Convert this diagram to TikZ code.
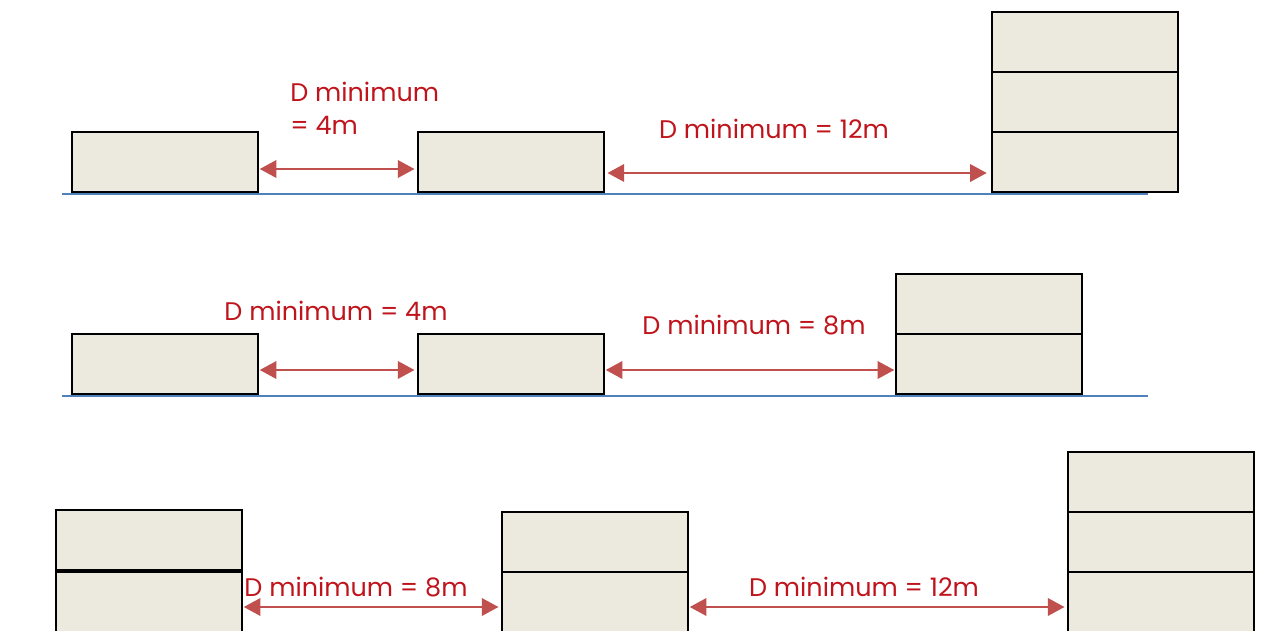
\documentclass[tikz,border=0pt]{standalone}
\usepackage{fontspec}
\setmainfont{Poppins}
\usetikzlibrary{arrows.meta}
\definecolor{boxfill}{HTML}{ECE9DF}
\definecolor{arrred}{HTML}{C0504D}
\definecolor{txtred}{HTML}{C0141C}
\definecolor{ground}{HTML}{4F81BD}
\tikzset{
  blk/.style={draw=black, line width=1.1pt, fill=boxfill, minimum width=37.2mm, minimum height=12mm, inner sep=0pt, outer sep=0pt},
  gap/.style={draw=arrred, line width=1.1pt, {Triangle[length=9.5pt,width=10pt]}-{Triangle[length=9.5pt,width=10pt]}},
  lbl/.style={text=txtred, font=\fontsize{14.5pt}{19pt}\selectfont, inner sep=0pt},
  gline/.style={draw=ground, line width=1.1pt}
}
\begin{document}
\begin{tikzpicture}[x=0.2mm, y=-0.2mm]
\useasboundingbox (0,0) rectangle (1262,630);
% ---------- row 1 ----------
\coordinate (g1l) at (62,194);
\coordinate (g1r) at (1148,194);
\draw[gline] (g1l) -- (g1r);
\node[blk] (r1a) at (165,162) {};
\node[blk] (r1b) at (511,162) {};
\node[blk] (r1c1) at (1085,162) {};
\node[blk] (r1c2) at (1085,102) {};
\node[blk] (r1c3) at (1085,42) {};
\coordinate (y1a) at (0,169);
\coordinate (y1b) at (0,173);
\draw[gap, shorten <=1pt, shorten >=2pt] (r1a.east |- y1a) -- (r1b.west |- y1a);
\draw[gap, shorten <=2pt, shorten >=3pt] (r1b.east |- y1b) -- (r1c1.west |- y1b);
\node[lbl, anchor=west, align=left] (t1a) at (290,108) {D minimum\\= 4m};
\node[lbl] (t1b) at (774,129) {D minimum = 12m};
% ---------- row 2 ----------
\coordinate (g2l) at (62,396);
\coordinate (g2r) at (1148,396);
\draw[gline] (g2l) -- (g2r);
\node[blk] (r2a) at (165,364) {};
\node[blk] (r2b) at (511,364) {};
\node[blk] (r2c1) at (989,364) {};
\node[blk] (r2c2) at (989,304) {};
\coordinate (y2) at (0,370);
\draw[gap, shorten <=1pt, shorten >=2pt] (r2a.east |- y2) -- (r2b.west |- y2);
\draw[gap, shorten <=1pt, shorten >=1pt] (r2b.east |- y2) -- (r2c1.west |- y2);
\node[lbl] (t2a) at (336,311) {D minimum = 4m};
\node[lbl] (t2b) at (754,325) {D minimum = 8m};
% ---------- row 3 ----------
\node[blk] (r3a1) at (149,602) {};
\node[blk] (r3a2) at (149,540) {};
\node[blk] (r3b1) at (595,602) {};
\node[blk] (r3b2) at (595,542) {};
\node[blk] (r3c1) at (1161,602) {};
\node[blk] (r3c2) at (1161,542) {};
\node[blk] (r3c3) at (1161,482) {};
\coordinate (y3) at (0,607);
\draw[gap, shorten <=1pt, shorten >=2pt] (r3a1.east |- y3) -- (r3b1.west |- y3);
\draw[gap, shorten <=1pt, shorten >=2pt] (r3b1.east |- y3) -- (r3c1.west |- y3);
\node[lbl] (t3a) at (356,587) {D minimum = 8m};
\node[lbl] (t3b) at (864,587) {D minimum = 12m};
\end{tikzpicture}
\end{document}
